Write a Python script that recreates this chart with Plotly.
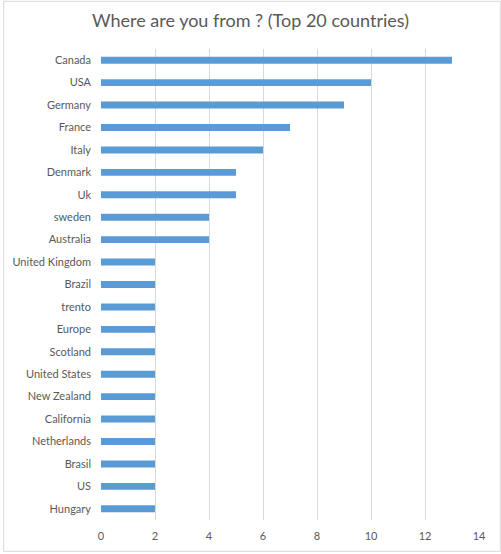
import plotly.graph_objects as go

countries = ['Canada', 'USA', 'Germany', 'France', 'Italy', 'Denmark', 'Uk',
             'sweden', 'Australia', 'United Kingdom', 'Brazil', 'trento',
             'Europe', 'Scotland', 'United States', 'New Zealand', 'California',
             'Netherlands', 'Brasil', 'US', 'Hungary']
counts = [13, 10, 9, 7, 6, 5, 5, 4, 4, 2, 2, 2, 2, 2, 2, 2, 2, 2, 2, 2, 2]
x_ticks = [0, 2, 4, 6, 8, 10, 12, 14]

W, H = 501, 554
ml, mr, mt, mb = 98.5, 22, 48.5, 32
pw, ph = W - ml - mr, H - mt - mb

fig = go.Figure()
fig.add_trace(go.Bar(x=counts, y=countries, orientation='h',
                     marker=dict(color='#5B9BD5', line=dict(width=0)),
                     width=0.31))

fig.update_layout(
    width=W, height=H,
    margin=dict(l=ml, r=mr, t=mt, b=mb),
    paper_bgcolor='white', plot_bgcolor='white',
    font=dict(family='Lato, Open Sans, sans-serif', color='#595959', size=11),
    title=dict(text='Where are you from ? (Top 20 countries)',
               x=0.5, xref='container', xanchor='center',
               y=1 - 21 / H, yref='container', yanchor='middle',
               font=dict(size=18, color='#595959')),
    showlegend=False,
)
fig.update_xaxes(range=[0, 14], tickvals=x_ticks, showgrid=True,
                 gridcolor='#D9D9D9', gridwidth=1, zeroline=False,
                 showline=False, ticks='', ticklabelstandoff=8, fixedrange=True)
fig.update_yaxes(autorange='reversed', showgrid=False, showline=False,
                 ticks='', ticklabelstandoff=9, fixedrange=True)

# outer chart border
fig.add_shape(type='rect', xref='paper', yref='paper',
              x0=-(ml - 0.5) / pw, x1=1 + (mr - 0.5) / pw,
              y0=-(mb - 0.5) / ph, y1=1 + (mt - 0.5) / ph,
              line=dict(color='#D9D9D9', width=1), layer='below')

fig.write_html('out.html', config={'displayModeBar': False},
               post_script="document.body.style.margin='0';"
                           "document.body.style.overflow='hidden';")
